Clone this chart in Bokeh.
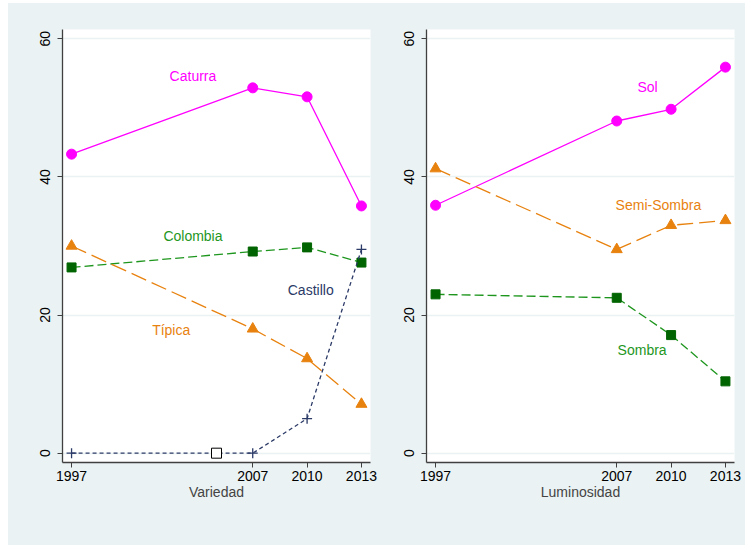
from bokeh.plotting import figure
from bokeh.layouts import row
from bokeh.models import FixedTicker, Range1d
from bokeh.core.properties import value
from bokeh.embed import file_html
from bokeh.resources import INLINE

# ---- data ----
years = [1997, 2007, 2010, 2013]
year_ticks = [1997, 2007, 2010, 2013]
y_ticks = [0, 20, 40, 60]

caturra = [43.3, 52.9, 51.6, 35.8]
colombia = [26.9, 29.2, 29.8, 27.6]
tipica = [30.0, 18.0, 13.7, 7.1]
castillo = [0.0, 0.0, 5.0, 29.5]
extra_x = [2005]
extra_y = [0.0]

sol = [35.9, 48.1, 49.8, 55.9]
semisombra = [41.2, 29.5, 33.0, 33.7]
sombra = [23.0, 22.5, 17.1, 10.4]

left_labels = ["Caturra", "Colombia", "Castillo", "Típica"]
left_label_x = [2003.7, 2003.7, 2010.2, 2002.5]
left_label_y = [54.6, 31.4, 23.6, 17.9]

right_labels = ["Sol", "Semi-Sombra", "Sombra"]
right_label_x = [2008.7, 2009.3, 2008.4]
right_label_y = [53.0, 36.0, 14.9]

x_titles = ["Variedad", "Luminosidad"]

# ---- style ----
BG = "#EAF2F3"
FONT = "Liberation Sans"
MAGENTA = "#FF00FF"
GREEN_LINE = "#1E961E"
GREEN_MARK = "#006400"
ORANGE = "#E8820F"
NAVY = "#2B3A67"
AXIS = "#404040"


def base_fig(width, bl, br, title):
    p = figure(width=width, height=542, output_backend="svg", toolbar_location=None,
               x_range=Range1d(1996.5, 2013.5), y_range=Range1d(-1.35, 61.35),
               min_border_left=bl, min_border_right=br, min_border_top=26, min_border_bottom=83)
    p.background_fill_color = "white"
    p.border_fill_color = BG
    p.outline_line_color = None
    for ax in (p.xaxis[0], p.yaxis[0]):
        ax.axis_line_color = AXIS
        ax.axis_line_width = 1.3
        ax.major_tick_line_color = AXIS
        ax.major_tick_out = 5
        ax.major_tick_in = 0
        ax.minor_tick_line_color = None
        ax.major_label_text_font = FONT
        ax.major_label_text_font_size = "14px"
        ax.major_label_text_color = "black"
    p.xaxis.ticker = FixedTicker(ticks=year_ticks)
    p.yaxis.ticker = FixedTicker(ticks=y_ticks)
    p.yaxis.major_label_orientation = "vertical"
    p.xaxis.major_label_standoff = 3
    p.yaxis.major_label_standoff = 7
    p.xaxis.axis_label = title
    p.xaxis.axis_label_text_font = FONT
    p.xaxis.axis_label_text_font_size = "14px"
    p.xaxis.axis_label_text_font_style = "normal"
    p.xaxis.axis_label_standoff = 0
    p.xgrid.grid_line_color = None
    p.ygrid.grid_line_color = BG
    p.ygrid.grid_line_width = 1.5
    return p


# ---- left panel ----
p1 = base_fig(380, 54, 18, x_titles[0])
p1.line(years, caturra, line_color=MAGENTA, line_width=1.3)
p1.scatter(years, caturra, marker="circle", size=10, fill_color=MAGENTA, line_color=MAGENTA)
p1.line(years, colombia, line_color=GREEN_LINE, line_width=1.3, line_dash="9 4")
p1.scatter(years, colombia, marker="square", size=9, fill_color=GREEN_MARK, line_color=GREEN_MARK)
p1.line(years, tipica, line_color=ORANGE, line_width=1.3, line_dash="16 6")
p1.scatter(years, tipica, marker="triangle", size=11, fill_color=ORANGE, line_color=ORANGE)
p1.line(years, castillo, line_color=NAVY, line_width=1.3, line_dash="4 3")
p1.scatter(years, castillo, marker="cross", size=10, line_color=NAVY, line_width=1.3)
p1.scatter(extra_x, extra_y, marker="square", size=10, fill_color="white", line_color="black", line_width=1)

left_colors = [MAGENTA, GREEN_LINE, NAVY, ORANGE]
p1.text(x=left_label_x, y=left_label_y, text=left_labels, text_color=left_colors,
        text_font=value(FONT), text_font_size="14px", text_align="center", text_baseline="middle")

# ---- right panel ----
p2 = base_fig(357, 38, 11, x_titles[1])
p2.line(years, sol, line_color=MAGENTA, line_width=1.3)
p2.scatter(years, sol, marker="circle", size=10, fill_color=MAGENTA, line_color=MAGENTA)
p2.line(years, semisombra, line_color=ORANGE, line_width=1.3, line_dash="16 6")
p2.scatter(years, semisombra, marker="triangle", size=11, fill_color=ORANGE, line_color=ORANGE)
p2.line(years, sombra, line_color=GREEN_LINE, line_width=1.3, line_dash="9 4")
p2.scatter(years, sombra, marker="square", size=9, fill_color=GREEN_MARK, line_color=GREEN_MARK)

right_colors = [MAGENTA, ORANGE, GREEN_LINE]
p2.text(x=right_label_x, y=right_label_y, text=right_labels, text_color=right_colors,
        text_font=value(FONT), text_font_size="14px", text_align="center", text_baseline="middle")

layout = row(p1, p2, spacing=0, margin=(3, 0, 0, 8), styles={"background-color": BG})
open("out.html", "w").write(file_html(layout, INLINE))
